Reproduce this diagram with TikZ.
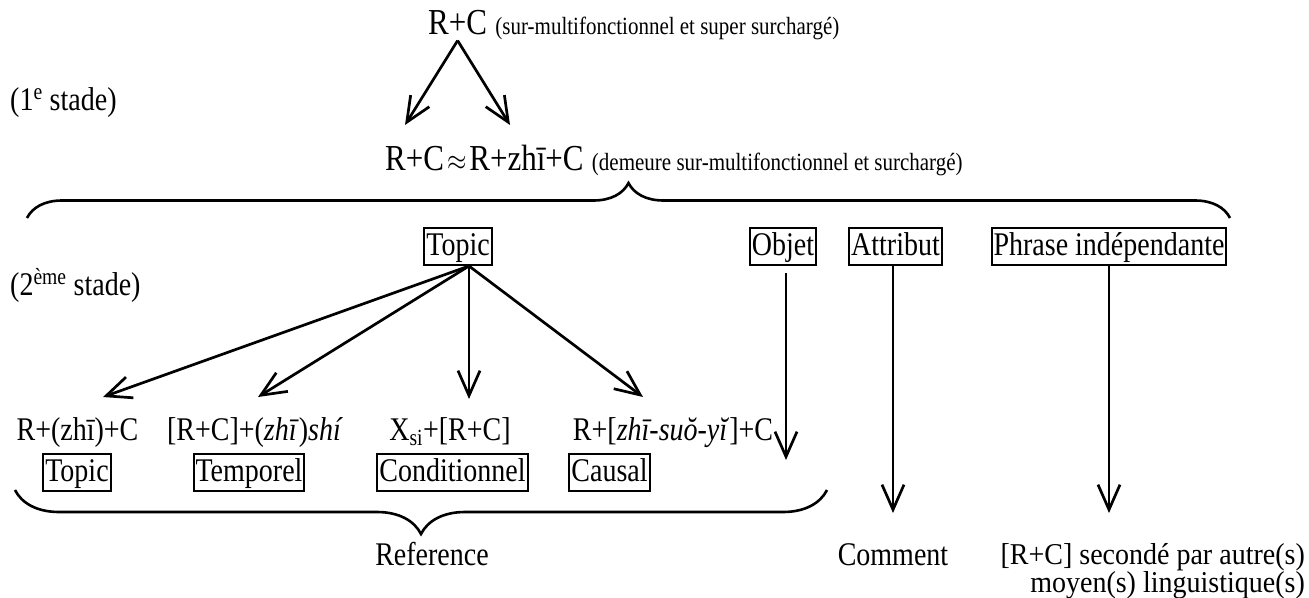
\documentclass[tikz,border=0pt]{standalone}
\usepackage{fontspec}
\usepackage{graphicx}
\setmainfont{Liberation Serif}
\usetikzlibrary{arrows.meta,decorations.pathreplacing,calc}
\newcommand\hdsz{\fontsize{31}{37}\selectfont}
\newcommand\mnsz{\fontsize{28}{27}\selectfont}
\newcommand\smsz{\fontsize{21}{25}\selectfont}
\newcommand\tl[1]{\scalebox{1}[1.18]{#1}}
\newcommand\tls[1]{\scalebox{1}[1.08]{#1}}
\begin{document}
\begin{tikzpicture}[x=1pt,y=-1pt,
  every node/.style={inner sep=0pt, font=\mnsz},
  lbl/.style={anchor=base},
  boxed/.style={draw, line width=2pt, inner xsep=2pt, inner ysep=2pt, text height=25pt, text depth=8pt},
  arr/.style={line width=2.7pt, -{Straight Barb[length=25pt,width=22pt]}},
  brc/.style={line width=2.6pt, decorate, decoration={brace, amplitude=#1, aspect=0.5}}]
\useasboundingbox (0,0) rectangle (1309,597);

% first stage
\node[anchor=base west, font=\hdsz] (rc1) at (428,34) {\tl{R+C}};
\node[anchor=base west, font=\smsz] (rc1n) at ($(rc1.base east)+(8,0)$) {\tl{(sur-multifonctionnel et super surchargé)}};
\node[anchor=base west] (st1) at (10,110) {\tl{(1\textsuperscript{e} stade)}};
\coordinate (apex) at ($(rc1.south)+(0,6)$);
\coordinate (a1) at (405,125);
\coordinate (a2) at (510,125);
\draw[arr] (apex) -- (a1);
\draw[arr] (apex) -- (a2);

\node[anchor=base west, font=\hdsz] (rc2) at (385,170) {\tl{R+C\kern3pt$\approx$\kern3ptR+zhī+C}};
\node[anchor=base west, font=\smsz] (rc2n) at ($(rc2.base east)+(8,0)$) {\tl{(demeure sur-multifonctionnel et surchargé)}};

% top brace
\coordinate (b1l) at (27,218);
\coordinate (b1r) at (1230,218);
\draw[brc=35pt] (b1l) -- (b1r);

% second stage
\node[anchor=base west] (st2) at (10,295) {\tl{(2\textsuperscript{ème} stade)}};
\node[boxed] (topic) at (458,246.5) {\tl{Topic}};
\node[boxed] (objet) at (783,246.5) {\tl{Objet}};
\node[boxed] (attr) at (895.5,246.5) {\tl{Attribut}};
\node[boxed] (phr) at (1109,246.5) {\tl{Phrase indépendante}};

% expressions
\node[lbl] (e1) at (77.5,440) {\tl{R+(zhī)+C}};
\node[lbl] (e2) at (255,440) {\tl{[R+C]+(\textit{zhī})\textit{shí}}};
\node[lbl] (e3) at (450,440) {\tl{X\textsubscript{si}+[R+C]}};
\node[lbl] (e4) at (673,440) {\tl{R+[\textit{zhī-suŏ-yĭ}]+C}};

\node[boxed] (k1) at (77,472.5) {\tl{Topic}};
\node[boxed] (k2) at (249,472.5) {\tl{Temporel}};
\node[boxed] (k3) at (452.5,472.5) {\tl{Conditionnel}};
\node[boxed] (k4) at (609.5,472.5) {\tl{Causal}};

% topic arrows
\coordinate (ts) at ($(topic.south)+(11,0)$);
\coordinate (t1) at (103,397);
\coordinate (t2) at (258,397);
\coordinate (t3) at (469,399);
\coordinate (t4) at (643,397);
\draw[arr] (ts) -- (t1);
\draw[arr] (ts) -- (t2);
\draw[arr] (ts) -- (t3);
\draw[arr] (ts) -- (t4);

% other arrows
\coordinate (oe) at (786,460);
\draw[arr] ($(objet.south)+(3,7)$) -- (oe);
\node[lbl] (com) at (893,565) {\tl{Comment}};
\coordinate (ae) at (893,513);
\draw[arr] (attr.south -| ae) -- (ae);
\coordinate (pe) at (1109,513);
\draw[arr] (phr.south) -- (pe);

% lower brace
\coordinate (b2l) at (827,490);
\coordinate (b2r) at (15,490);
\draw[brc=44pt] (b2l) -- (b2r);
\node[lbl] (ref) at (432,565) {\tl{Reference}};

\node[anchor=base east] (sec1) at (1305,564) {\tls{[R+C] secondé par autre(s)}};
\node[anchor=base east] (sec2) at (1305,592) {\tls{moyen(s) linguistique(s)}};
\end{tikzpicture}
\end{document}
